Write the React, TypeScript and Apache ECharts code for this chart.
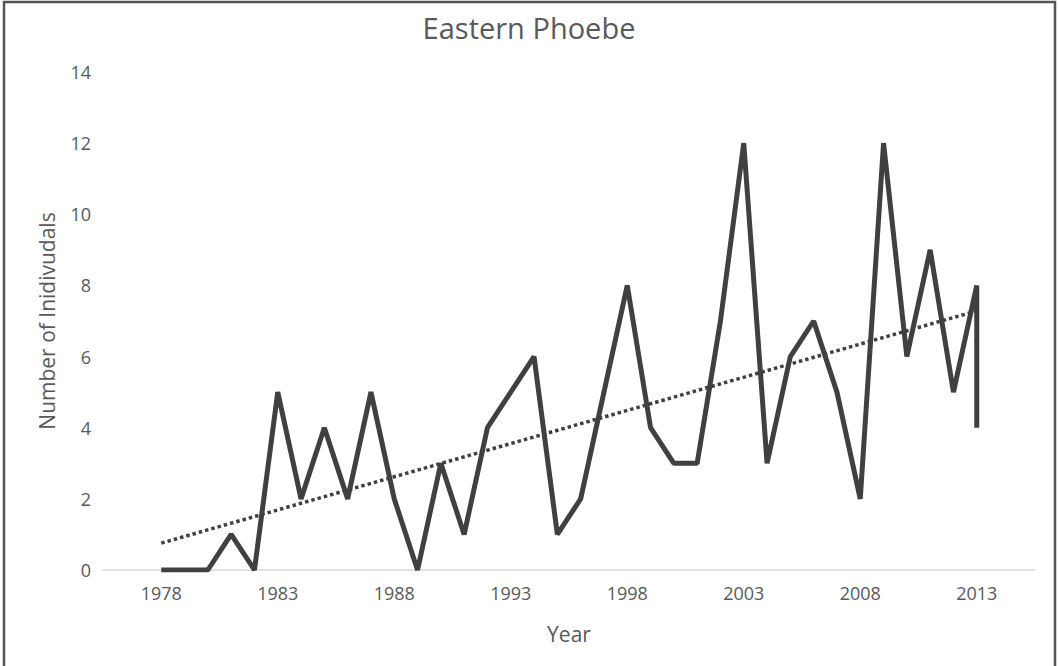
import React, { useEffect, useRef } from "react";
import * as echarts from "echarts";

const years: number[] = [
  1978, 1979, 1980, 1981, 1982, 1983, 1984, 1985, 1986, 1987, 1988, 1989,
  1990, 1991, 1992, 1993, 1994, 1995, 1996, 1997, 1998, 1999, 2000, 2001,
  2002, 2003, 2004, 2005, 2006, 2007, 2008, 2009, 2010, 2011, 2012, 2013,
  2013,
];
const counts: number[] = [
  0, 0, 0, 1, 0, 5, 2, 4, 2, 5, 2, 0,
  3, 1, 4, 5, 6, 1, 2, 5, 8, 4, 3, 3,
  7, 12, 3, 6, 7, 5, 2, 12, 6, 9, 5, 8,
  4,
];
const xTickLabels: number[] = [1978, 1983, 1988, 1993, 1998, 2003, 2008, 2013];
const yTicks: number[] = [0, 2, 4, 6, 8, 10, 12, 14];

const FONT = "'Open Sans', 'Noto Sans', sans-serif";
const TEXT = "#595959";
const LINE = "#404040";

function linearFit(xs: number[], ys: number[]) {
  const n = xs.length;
  const mx = xs.reduce((a, b) => a + b, 0) / n;
  const my = ys.reduce((a, b) => a + b, 0) / n;
  let sxy = 0;
  let sxx = 0;
  for (let i = 0; i < n; i++) {
    sxy += (xs[i] - mx) * (ys[i] - my);
    sxx += (xs[i] - mx) * (xs[i] - mx);
  }
  const slope = sxy / sxx;
  return { slope, intercept: my - slope * mx };
}

export default function App() {
  const ref = useRef<HTMLDivElement>(null);

  useEffect(() => {
    document.body.style.margin = "0";
    if (!ref.current) return;
    const chart = echarts.init(ref.current, null, { renderer: "svg" });

    const fit = linearFit(years, counts);
    const x0 = years[0];
    const x1 = years[years.length - 1];
    const trend = [
      [x0, fit.intercept + fit.slope * x0],
      [x1, fit.intercept + fit.slope * x1],
    ];
    const seriesData = years.map((y, i) => [y, counts[i]]);

    chart.setOption({
      animation: false,
      backgroundColor: "#ffffff",
      title: {
        text: "Eastern Phoebe",
        left: "center",
        top: 8,
        textStyle: {
          fontFamily: FONT,
          fontSize: 29,
          fontWeight: "normal",
          color: TEXT,
        },
      },
      graphic: [
        {
          type: "rect",
          shape: { x: 4, y: 2, width: 1051, height: 720 },
          style: { fill: "none", stroke: "#555555", lineWidth: 2.5 },
          silent: true,
        },
      ],
      grid: { left: 103, right: 23, top: 72, bottom: 96 },
      xAxis: {
        type: "value",
        min: 1975.5,
        max: 2015.5,
        name: "Year",
        nameLocation: "middle",
        nameGap: 53,
        nameTextStyle: { fontFamily: FONT, fontSize: 21, color: TEXT },
        axisLine: { show: true, lineStyle: { color: "#d9d9d9", width: 1.5 } },
        axisTick: { show: false },
        splitLine: { show: false },
        axisLabel: {
          customValues: xTickLabels,
          fontFamily: FONT,
          fontSize: 18,
          color: TEXT,
          margin: 14,
          formatter: (v: number) => String(v),
        },
      },
      yAxis: {
        type: "value",
        min: yTicks[0],
        max: yTicks[yTicks.length - 1],
        interval: 2,
        name: "Number of Inidivudals",
        nameLocation: "middle",
        nameGap: 46,
        nameTextStyle: { fontFamily: FONT, fontSize: 21, color: TEXT },
        axisLine: { show: false },
        axisTick: { show: false },
        splitLine: { show: false },
        axisLabel: {
          fontFamily: FONT,
          fontSize: 18,
          color: TEXT,
          margin: 12,
        },
      },
      series: [
        {
          type: "line",
          data: seriesData,
          symbol: "none",
          lineStyle: { color: LINE, width: 5 },
          z: 3,
        },
        {
          type: "line",
          data: trend,
          symbol: "none",
          lineStyle: { color: LINE, width: 3.5, type: [3.5, 3] },
          z: 4,
        },
      ],
    });

    return () => chart.dispose();
  }, []);

  return <div ref={ref} style={{ width: 1058, height: 666 }} />;
}
